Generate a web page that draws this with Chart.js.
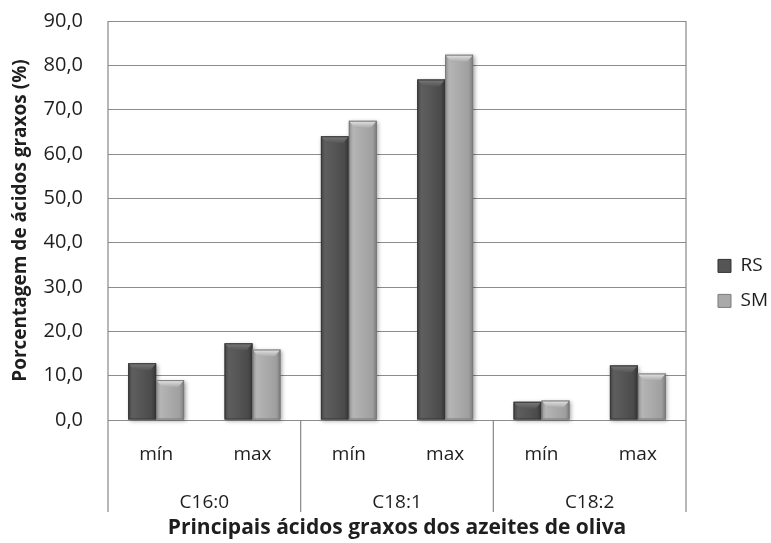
<!DOCTYPE html>
<html><head><meta charset="utf-8">
<script src="https://cdn.jsdelivr.net/npm/chart.js@4.4.1/dist/chart.umd.min.js"></script>
<style>html,body{margin:0;padding:0;background:#fff}#wrap{width:771px;height:543px}</style>
</head><body><div id="wrap"><canvas id="c" width="771" height="543"></canvas></div>
<script>
const categories = ['mín', 'max', 'mín', 'max', 'mín', 'max'];
const groups = ['C16:0', 'C18:1', 'C18:2'];
const rsValues = [12.8, 17.3, 64.0, 76.8, 4.1, 12.3];
const smValues = [9.0, 15.9, 67.5, 82.4, 4.4, 10.5];
const seriesNames = ['RS', 'SM'];
const yMin = 0, yMax = 90, yStep = 10;

const FONT = "'Open Sans', sans-serif";
const TXT = '#1e1e1e';

const barStyle = [
  { stops: [[0,'#444'],[0.15,'#5e5e5e'],[0.5,'#555'],[0.85,'#4a4a4a'],[1,'#333']], bevel: '#7a7a7a', border: '#383838' },
  { stops: [[0,'#8e8e8e'],[0.15,'#b5b5b5'],[0.5,'#aaa'],[0.85,'#9f9f9f'],[1,'#7c7c7c']], bevel: '#e6e6e6', border: '#7a7a7a' }
];

const barPaint = {
  id: 'barPaint',
  afterDatasetsDraw(chart) {
    const ctx = chart.ctx;
    chart.data.datasets.forEach((ds, di) => {
      const meta = chart.getDatasetMeta(di);
      const st = barStyle[di];
      meta.data.forEach(el => {
        const p = el.getProps(['x', 'y', 'base', 'width'], true);
        const l = p.x - p.width / 2, r = p.x + p.width / 2, t = p.y, b = p.base;
        const g = ctx.createLinearGradient(l, 0, r, 0);
        st.stops.forEach(s => g.addColorStop(s[0], s[1]));
        ctx.save();
        ctx.shadowColor = 'rgba(0,0,0,0.35)';
        ctx.shadowBlur = 4;
        ctx.shadowOffsetX = 1.5;
        ctx.shadowOffsetY = 1.5;
        ctx.fillStyle = g;
        ctx.fillRect(l, t, r - l, b - t);
        ctx.restore();
        ctx.save();
        const bh = Math.min(7, (b - t) / 2);
        ctx.beginPath();
        ctx.moveTo(l, t); ctx.lineTo(r, t); ctx.lineTo(r - 6, t + bh); ctx.lineTo(l + 6, t + bh); ctx.closePath();
        const vg = ctx.createLinearGradient(0, t, 0, t + bh);
        vg.addColorStop(0, st.bevel);
        vg.addColorStop(1, st.stops[2][1]);
        ctx.fillStyle = vg;
        ctx.fill();
        ctx.strokeStyle = st.border;
        ctx.lineWidth = 1;
        ctx.strokeRect(l + 0.5, t + 0.5, r - l - 1, b - t - 1);
        ctx.restore();
      });
    });
  }
};

const frame = {
  id: 'frame',
  afterDraw(chart) {
    const ctx = chart.ctx, a = chart.chartArea;
    const xs = chart.scales.x, x2 = chart.scales.x2;
    const sepBottom = x2.top + 37;
    ctx.save();
    ctx.strokeStyle = '#888';
    ctx.lineWidth = 1.2;
    ctx.beginPath();
    ctx.moveTo(a.left, a.top); ctx.lineTo(a.left, sepBottom);
    ctx.moveTo(a.right, a.top); ctx.lineTo(a.right, sepBottom);
    for (let i = 2; i < categories.length; i += 2) {
      const sx = (xs.getPixelForValue(i - 1) + xs.getPixelForValue(i)) / 2;
      ctx.moveTo(sx, a.bottom); ctx.lineTo(sx, sepBottom);
    }
    ctx.stroke();
    ctx.restore();
  }
};

const noPadV = s => { s.paddingTop = 0; s.paddingBottom = 0; };

new Chart(document.getElementById('c'), {
  type: 'bar',
  data: {
    labels: categories,
    datasets: [
      { label: seriesNames[0], data: rsValues, backgroundColor: '#555', borderColor: '#333', borderWidth: 1 },
      { label: seriesNames[1], data: smValues, backgroundColor: '#aaa', borderColor: '#7a7a7a', borderWidth: 1 }
    ]
  },
  options: {
    responsive: false,
    animation: false,
    layout: { padding: { left: 9, right: -7, top: 21, bottom: 2 } },
    datasets: { bar: { categoryPercentage: 0.58, barPercentage: 1.0 } },
    plugins: {
      legend: {
        position: 'right', align: 'center',
        title: { display: true, text: ' ', font: { size: 4 }, padding: 0 },
        labels: { boxWidth: 13, boxHeight: 13, padding: 16, color: TXT, font: { family: FONT, size: 19 } }
      },
      tooltip: { enabled: false }
    },
    scales: {
      y: {
        min: yMin, max: yMax,
        ticks: { stepSize: yStep, padding: 25, color: TXT, font: { family: FONT, size: 20 },
          callback: v => v.toFixed(1).replace('.', ',') },
        grid: { color: '#8c8c8c', lineWidth: 1, drawTicks: false },
        border: { display: false },
        title: { display: true, text: 'Porcentagem de ácidos graxos (%)', color: TXT, padding: 0,
          font: { family: FONT, size: 19, weight: 'bold' } },
        afterFit: s => { s.width = 99; noPadV(s); }
      },
      y2: {
        position: 'right', display: true,
        grid: { drawOnChartArea: false, drawTicks: false },
        ticks: { display: false }, border: { display: false },
        afterFit: s => { s.width = 16; noPadV(s); }
      },
      x: {
        weight: 0,
        offset: true,
        grid: { display: false }, border: { display: false },
        ticks: { padding: 15, color: TXT, maxRotation: 0, autoSkip: false, font: { family: FONT, size: 19 } },
        afterFit: s => { s.height = 55; }
      },
      x2: {
        type: 'category', position: 'bottom', weight: 1,
        labels: groups, offset: true,
        grid: { display: false }, border: { display: false },
        ticks: { padding: 8, color: TXT, maxRotation: 0, autoSkip: false, font: { family: FONT, size: 19 } },
        title: { display: true, text: 'Principais ácidos graxos dos azeites de oliva', color: TXT,
          padding: { top: 2, bottom: 0 }, font: { family: FONT, size: 21, weight: 'bold' } },
        afterFit: s => { s.height = 66; }
      }
    }
  },
  plugins: [barPaint, frame]
});
</script></body></html>
